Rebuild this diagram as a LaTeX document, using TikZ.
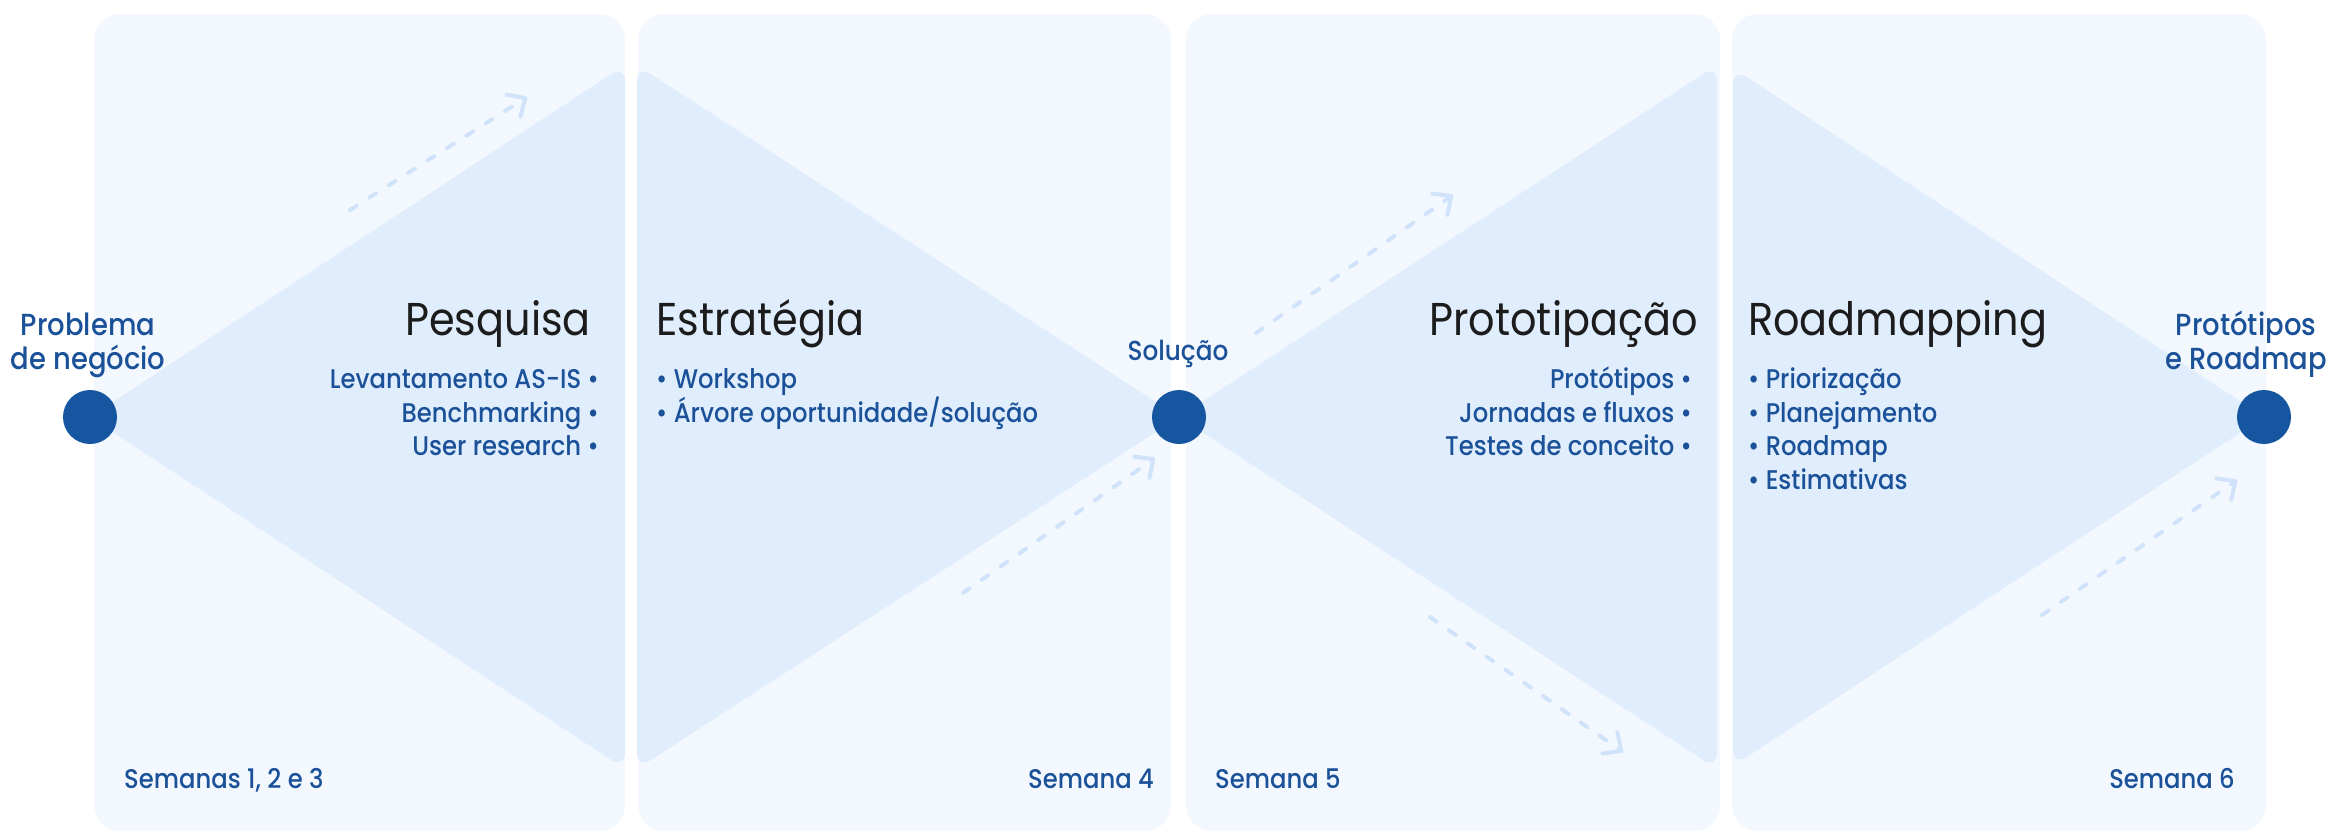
\documentclass[tikz,border=0pt]{standalone}
\usepackage{fontspec}
\setmainfont{Poppins}[FakeStretch=0.9]
\newfontfamily\medfont{Poppins Medium}[FakeStretch=0.9]
\usetikzlibrary{arrows.meta}
\definecolor{panelbg}{HTML}{F3F8FE}
\definecolor{tribg}{HTML}{E0EDFC}
\definecolor{arrowcol}{HTML}{D0E3FA}
\definecolor{dotblue}{HTML}{1656A0}
\definecolor{txtblue}{HTML}{1A5198}
\definecolor{titlecol}{HTML}{1C1C1C}
\begin{document}
\begin{tikzpicture}[x=1pt,y=-1pt,
  panel/.style={fill=panelbg, rounded corners=26pt},
  tri/.style={fill=tribg, rounded corners=16pt},
  dot/.style={circle, fill=dotblue, minimum size=54pt, inner sep=0pt},
  title/.style={inner sep=0pt, text=titlecol, font=\fontsize{46}{46}\selectfont},
  item/.style={inner sep=0pt, text=txtblue, font=\medfont\fontsize{27}{27}\selectfont},
  endlabel/.style={inner sep=0pt, text=txtblue, font=\medfont\fontsize{30.5}{30.5}\selectfont},
  week/.style={inner sep=0pt, text=txtblue, font=\medfont\fontsize{27}{27}\selectfont},
  flow/.style={draw=arrowcol, line width=4pt, dash pattern=on 8pt off 15pt, line cap=round,
    -{Straight Barb[length=14pt,width=26pt,round]}}
]
\useasboundingbox (0,0) rectangle (2330,833);
\fill[white] (0,0) rectangle (2330,833);

% panels
\fill[panel] (94,14) rectangle (625,831);
\fill[panel] (638,14) rectangle (1171,831);
\fill[panel] (1186,14) rectangle (1720,831);
\fill[panel] (1732,14) rectangle (2266,831);

% triangles
\fill[tri] (90,417) -- (625,65) -- (625,769) -- cycle;
\fill[tri] (1179,417) -- (637,65) -- (637,769) -- cycle;
\fill[tri] (1179,417) -- (1717,65) -- (1717,769) -- cycle;
\fill[tri] (2264,417) -- (1733,68) -- (1733,766) -- cycle;

% dashed arrows
\coordinate (a1s) at (350,210); \coordinate (a1e) at (527,97);
\coordinate (a2s) at (963,593); \coordinate (a2e) at (1155,458);
\coordinate (a3s) at (1256,333); \coordinate (a3e) at (1453,195);
\coordinate (a4s) at (1430,617); \coordinate (a4e) at (1623,752);
\coordinate (a5s) at (2042,615); \coordinate (a5e) at (2237,480);
\draw[flow] (a1s) -- (a1e);
\draw[flow] (a2s) -- (a2e);
\draw[flow] (a3s) -- (a3e);
\draw[flow] (a4s) -- (a4e);
\draw[flow] (a5s) -- (a5e);

% circles
\node[dot] (c1) at (90,417) {};
\node[dot] (c2) at (1179,417) {};
\node[dot] (c3) at (2264,417) {};

% end labels
\node[endlabel, anchor=base] (l1a) at (88,335) {Problema};
\node[endlabel, anchor=base] (l1b) at (88,369) {de negócio};
\node[endlabel, anchor=base, font=\medfont\fontsize{27.5}{27.5}\selectfont] (l2) at (1178,360) {Solução};
\node[endlabel, anchor=base] (l3a) at (2246,335) {Protótipos};
\node[endlabel, anchor=base] (l3b) at (2246,369) {e Roadmap};

% titles
\node[title, anchor=base east] (t1) at (591,335) {Pesquisa};
\node[title, anchor=base west] (t2) at (656,335) {Estratégia};
\node[title, anchor=base east] (t3) at (1698,335) {Prototipação};
\node[title, anchor=base west] (t4) at (1748,335) {Roadmapping};

% items
\node[item, anchor=base east] (i11) at (599,388) {Levantamento AS-IS •};
\node[item, anchor=base east] (i12) at (599,422) {Benchmarking •};
\node[item, anchor=base east] (i13) at (599,455) {User research •};

\node[item, anchor=base west] (i21) at (656,388) {• Workshop};
\node[item, anchor=base west] (i22) at (656,422) {• Árvore oportunidade/solução};

\node[item, anchor=base east] (i31) at (1692,388) {Protótipos •};
\node[item, anchor=base east] (i32) at (1692,422) {Jornadas e fluxos •};
\node[item, anchor=base east] (i33) at (1692,455) {Testes de conceito •};

\node[item, anchor=base west] (i41) at (1748,388) {• Priorização};
\node[item, anchor=base west] (i42) at (1748,422) {• Planejamento};
\node[item, anchor=base west] (i43) at (1748,455) {• Roadmap};
\node[item, anchor=base west] (i44) at (1748,489) {• Estimativas};

% weeks
\node[week, anchor=base west] (w1) at (124,788) {Semanas 1, 2 e 3};
\node[week, anchor=base east] (w2) at (1154,788) {Semana 4};
\node[week, anchor=base west] (w3) at (1215,788) {Semana 5};
\node[week, anchor=base east] (w4) at (2235,788) {Semana 6};
\end{tikzpicture}
\end{document}
